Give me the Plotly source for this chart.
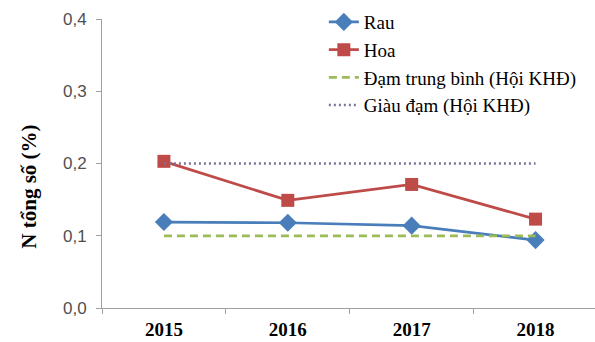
import plotly.graph_objects as go

years = ["2015", "2016", "2017", "2018"]
rau = [0.119, 0.118, 0.114, 0.094]
hoa = [0.203, 0.149, 0.171, 0.123]
dam_tb = [0.1, 0.1, 0.1, 0.1]
giau_dam = [0.2, 0.2, 0.2, 0.2]
y_ticks = [0.0, 0.1, 0.2, 0.3, 0.4]
y_title = "N tổng số (%)"

serif = "Liberation Serif"
sans = "Liberation Sans"

fig = go.Figure()
fig.add_trace(go.Scatter(
    x=years, y=rau, name="Rau", mode="lines+markers",
    line=dict(color="#4A7EBB", width=2.75),
    marker=dict(symbol="diamond", size=14, color="#4A7EBB"),
))
fig.add_trace(go.Scatter(
    x=years, y=hoa, name="Hoa", mode="lines+markers",
    line=dict(color="#BE4B48", width=2.75),
    marker=dict(symbol="square", size=13, color="#BE4B48"),
))
fig.add_trace(go.Scatter(
    x=years, y=dam_tb, name="Đạm trung bình (Hội KHĐ)", mode="lines",
    line=dict(color="#9BBB59", width=2.75, dash="8px,5px"),
))
fig.add_trace(go.Scatter(
    x=years, y=giau_dam, name="Giàu đạm (Hội KHĐ)", mode="lines",
    line=dict(color="#7D7396", width=2.5, dash="2px,3px"),
))

fig.update_layout(
    width=595, height=342,
    margin=dict(l=102, r=0, t=19, b=34),
    paper_bgcolor="white", plot_bgcolor="white",
    font=dict(family=serif, size=18, color="#000000"),
    separators=", ",
    showlegend=True,
    legend=dict(
        x=0.45, y=1.055, xanchor="left", yanchor="top",
        font=dict(family=serif, size=19, color="#000000"),
        bgcolor="rgba(0,0,0,0)", tracegroupgap=0,
    ),
    xaxis=dict(
        type="category", range=[-0.5, 3.48],
        showline=True, linecolor="#A0A0A0", linewidth=1,
        ticks="outside", tickson="boundaries", ticklen=5, tickcolor="#A0A0A0",
        ticklabelstandoff=4,
        tickfont=dict(family=serif, size=19, color="#000000", weight="bold"),
        showgrid=False, zeroline=False,
    ),
    yaxis=dict(
        range=[0, 0.4], tickvals=y_ticks, tickformat=".1f",
        showline=True, linecolor="#A0A0A0", linewidth=1,
        ticks="outside", ticklen=5, tickcolor="#A0A0A0",
        ticklabelstandoff=6,
        tickfont=dict(family=sans, size=17, color="#505050"),
        showgrid=False, zeroline=False,
    ),
    annotations=[dict(
        text=y_title, textangle=-90, showarrow=False,
        xref="paper", yref="paper", x=-0.148, y=0.42,
        xanchor="center", yanchor="middle",
        font=dict(family=serif, size=21, color="#000000", weight="bold"),
    )],
)

fig.write_html("out.html")
